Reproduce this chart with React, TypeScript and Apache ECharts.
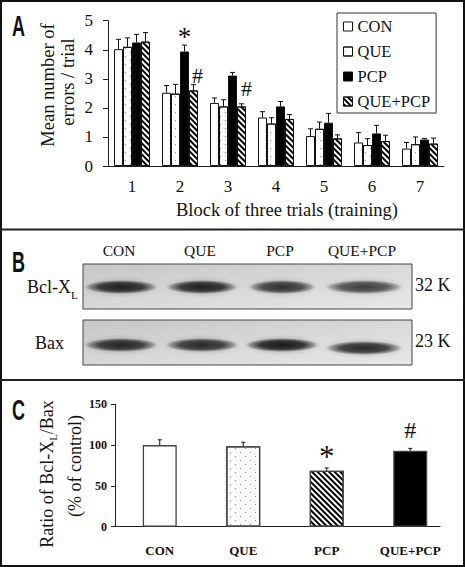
import React, { useEffect, useRef } from 'react';
import * as echarts from 'echarts';

// ---------- Panel A data ----------
const blocks = ['1', '2', '3', '4', '5', '6', '7'];
const groupNames = ['CON', 'QUE', 'PCP', 'QUE+PCP'];
const conMean = [4.02, 2.52, 2.17, 1.67, 1.03, 0.81, 0.6];
const conErr = [0.34, 0.25, 0.17, 0.2, 0.25, 0.34, 0.21];
const queMean = [4.1, 2.49, 2.05, 1.46, 1.28, 0.72, 0.75];
const queErr = [0.31, 0.32, 0.23, 0.2, 0.23, 0.22, 0.25];
const pcpMean = [4.25, 3.94, 3.11, 2.05, 1.49, 1.12, 0.91];
const pcpErr = [0.28, 0.22, 0.11, 0.17, 0.32, 0.28, 0.04];
const qpMean = [4.28, 2.6, 2.05, 1.62, 0.95, 0.86, 0.77];
const qpErr = [0.31, 0.2, 0.09, 0.15, 0.12, 0.2, 0.19];
// annotations in panel A: block index, bar index, value, text
const annA = [
  { block: 1, bar: 2, value: 4.61, text: '*', dx: 0 },
  { block: 1, bar: 3, value: 3.13, text: '#', dx: 4 },
  { block: 2, bar: 3, value: 2.67, text: '#', dx: 5 },
];

// ---------- Panel C data ----------
const ratioCats = ['CON', 'QUE', 'PCP', 'QUE+PCP'];
const ratioMean = [100, 98.5, 68.5, 93];
const ratioErr = [6.5, 5, 3.5, 3];
const annC = [
  { cat: 2, value: 92.7, text: '*' },
  { cat: 3, value: 118.3, text: '#' },
];

// ---------- Panel B (blot) ----------
const laneLabels = ['CON', 'QUE', 'PCP', 'QUE+PCP'];
const bclIntensity = [0.92, 0.92, 0.8, 0.72];
const baxIntensity = [0.88, 0.85, 0.97, 0.85];

const SERIF = "'Liberation Serif', 'Times New Roman', serif";
const SANS = "'Liberation Sans', Arial, sans-serif";

const measure = (t: string, size: number, weight = 'normal') => {
  const c = document.createElement('canvas').getContext('2d')!;
  c.font = `${weight} ${size}px ${SERIF}`;
  return c.measureText(t).width;
};

const dots = {
  symbol: 'rect',
  symbolSize: 1,
  dashArrayX: [[1, 9], [0, 5, 1, 4]],
  dashArrayY: [1, 3],
  color: '#888',
};
const dotsLegendless = dots;
const stripes = {
  symbol: 'rect',
  symbolSize: 1,
  dashArrayX: [1, 0],
  dashArrayY: [2, 2],
  rotation: Math.PI / 4,
  color: '#000',
};

const BAR_A = 9;

function errSeries(means: number[], errs: number[], offset: number, axis: number, capW: number) {
  return {
    type: 'custom',
    xAxisIndex: axis,
    yAxisIndex: axis,
    z: 5,
    silent: true,
    data: means.map((m, i) => [i, m, m + errs[i]]),
    encode: { x: 0, y: [1, 2] },
    renderItem: (params: any, api: any) => {
      const base = api.coord([api.value(0), api.value(1)]);
      const top = api.coord([api.value(0), api.value(2)]);
      const x = base[0] + offset;
      return {
        type: 'group',
        children: [
          { type: 'line', shape: { x1: x, y1: base[1], x2: x, y2: top[1] }, style: { stroke: '#111', lineWidth: 1 } },
          { type: 'line', shape: { x1: x - capW / 2, y1: top[1], x2: x + capW / 2, y2: top[1] }, style: { stroke: '#111', lineWidth: 1 } },
        ],
      };
    },
  };
}

function annSeries(items: any[], axis: number, size: number, starSize: number, offsetFn: (a: any) => number) {
  return {
    type: 'custom',
    xAxisIndex: axis,
    yAxisIndex: axis,
    z: 6,
    silent: true,
    data: items.map((a) => [a.block ?? a.cat, a.value]),
    encode: { x: 0, y: 1 },
    renderItem: (params: any, api: any) => {
      const a = items[params.dataIndex];
      const p = api.coord([api.value(0), api.value(1)]);
      const star = a.text === '*';
      const fs = star ? starSize : size;
      return {
        type: 'text',
        x: p[0] + offsetFn(a),
        y: p[1] + (star ? fs * 0.17 : 0),
        style: { text: a.text, fontFamily: SERIF, fontSize: fs, fill: '#111', align: 'center', verticalAlign: 'middle' },
      };
    },
  };
}

function buildOption() {
  const lineColor = '#222';
  const aSeriesDefs = [
    { name: 'CON', mean: conMean, err: conErr, style: { color: '#fff' } },
    { name: 'QUE', mean: queMean, err: queErr, style: { color: '#fff', decal: dotsLegendless } },
    { name: 'PCP', mean: pcpMean, err: pcpErr, style: { color: '#000' } },
    { name: 'QUE+PCP', mean: qpMean, err: qpErr, style: { color: '#fff', decal: stripes } },
  ];
  const barsA = aSeriesDefs.map((d) => ({
    name: d.name,
    type: 'bar',
    xAxisIndex: 0,
    yAxisIndex: 0,
    barWidth: BAR_A,
    barGap: '0%',
    z: 2,
    data: d.mean,
    itemStyle: { ...d.style, borderColor: '#111', borderWidth: 1 },
  }));
  const errA = aSeriesDefs.map((d, i) => errSeries(d.mean, d.err, (i - 1.5) * BAR_A, 0, 5));

  const cStyles = [
    { color: '#fff' },
    { color: '#fff', decal: dots },
    { color: '#fff', decal: stripes },
    { color: '#000' },
  ];
  const barsC = {
    name: 'ratio',
    type: 'bar',
    xAxisIndex: 1,
    yAxisIndex: 1,
    barWidth: 34,
    z: 2,
    data: ratioMean.map((v, i) => ({ value: v, itemStyle: { ...cStyles[i], borderColor: '#444', borderWidth: 1.3 } })),
  };

  // ---------- graphics ----------
  const g: any[] = [];
  g.push({ type: 'rect', shape: { x: 1, y: 1, width: 463, height: 565 }, style: { fill: 'none', stroke: '#111', lineWidth: 2 }, z: 100 });
  g.push({ type: 'line', shape: { x1: 0, y1: 229.5, x2: 465, y2: 229.5 }, style: { stroke: '#222', lineWidth: 2 }, z: 100 });
  g.push({ type: 'line', shape: { x1: 0, y1: 380, x2: 465, y2: 380 }, style: { stroke: '#222', lineWidth: 2 }, z: 100 });
  // panel letters
  [['A', 26], ['B', 262], ['C', 410]].forEach(([t, y]) => {
    g.push({ type: 'text', x: 12, y: y as number, scaleX: 0.6, style: { text: t, fontFamily: SANS, fontWeight: 'bold', fontSize: 30, fill: '#111', align: 'left', verticalAlign: 'middle' } });
  });
  // panel A titles
  g.push({ type: 'text', x: 48, y: 85, rotation: Math.PI / 2, style: { text: 'Mean number of', fontFamily: SERIF, fontSize: 18.5, fill: '#111', align: 'center', verticalAlign: 'middle' } });
  g.push({ type: 'text', x: 68, y: 82, rotation: Math.PI / 2, style: { text: 'errors / trial', fontFamily: SERIF, fontSize: 18.5, fill: '#111', align: 'center', verticalAlign: 'middle' } });
  g.push({ type: 'text', x: 287, y: 210, style: { text: 'Block of three trials (training)', fontFamily: SERIF, fontSize: 18.5, fill: '#111', align: 'center', verticalAlign: 'middle' } });

  // panel B
  const laneCx = [121, 202, 282, 364];
  laneLabels.forEach((t, i) => {
    g.push({ type: 'text', x: laneCx[i] - 2, y: 250.5, style: { text: t, fontFamily: SERIF, fontSize: 15.5, fill: '#111', align: 'center', verticalAlign: 'middle' } });
  });
  const blot = (y: number, h: number, intens: number[], cys: number[], rxs: number[]) => {
    g.push({
      type: 'rect', shape: { x: 83, y, width: 329, height: h },
      style: {
        fill: new echarts.graphic.LinearGradient(0, 0, 1, 1, [
          { offset: 0, color: '#c6c6c6' }, { offset: 0.5, color: '#d8d8d8' }, { offset: 1, color: '#e8e8e8' },
        ]),
        stroke: '#444', lineWidth: 1,
      },
    });
    intens.forEach((a, i) => {
      // soft halo
      g.push({
        type: 'ellipse', shape: { cx: laneCx[i], cy: cys[i], rx: rxs[i] + 3, ry: 11 },
        style: {
          fill: new echarts.graphic.RadialGradient(0.5, 0.5, 0.5, [
            { offset: 0, color: `rgba(60,60,60,${a * 0.5})` },
            { offset: 1, color: 'rgba(120,120,120,0)' },
          ]),
        },
      });
      // core band
      g.push({
        type: 'ellipse', shape: { cx: laneCx[i], cy: cys[i], rx: rxs[i], ry: 7 },
        style: {
          fill: new echarts.graphic.RadialGradient(0.5, 0.5, 0.5, [
            { offset: 0, color: `rgba(22,22,22,${a})` },
            { offset: 0.6, color: `rgba(35,35,35,${a * 0.9})` },
            { offset: 0.85, color: `rgba(60,60,60,${a * 0.45})` },
            { offset: 1, color: 'rgba(110,110,110,0)' },
          ]),
        },
      });
    });
  };
  blot(264, 45, bclIntensity, [287, 287, 287, 287], [37, 36, 34, 39]);
  blot(320, 45, baxIntensity, [345, 345, 345, 348], [37, 37, 37, 39]);
  const bclW = measure('Bcl-X', 18);
  g.push({ type: 'text', x: 27, y: 286.5, style: { text: 'Bcl-X', fontFamily: SERIF, fontSize: 18, fill: '#111', align: 'left', verticalAlign: 'middle' } });
  g.push({ type: 'text', x: 27 + bclW, y: 295, style: { text: 'L', fontFamily: SERIF, fontSize: 11, fill: '#111', align: 'left', verticalAlign: 'middle' } });
  g.push({ type: 'text', x: 415, y: 285, style: { text: '32 K', fontFamily: SERIF, fontSize: 18, fill: '#111', align: 'left', verticalAlign: 'middle' } });
  g.push({ type: 'text', x: 35, y: 342.5, style: { text: 'Bax', fontFamily: SERIF, fontSize: 18, fill: '#111', align: 'left', verticalAlign: 'middle' } });
  g.push({ type: 'text', x: 415, y: 341, style: { text: '23 K', fontFamily: SERIF, fontSize: 18, fill: '#111', align: 'left', verticalAlign: 'middle' } });

  // panel C y title with subscript
  const fsC = 18;
  const w1 = measure('Ratio of Bcl-X', fsC);
  const wL = measure('L', 11);
  const w2 = measure('/Bax', fsC);
  const total = w1 + wL + w2;
  const x0 = -total / 2;
  g.push({
    type: 'group', x: 47, y: 474, rotation: Math.PI / 2,
    children: [
      { type: 'text', x: x0, y: 0, style: { text: 'Ratio of Bcl-X', fontFamily: SERIF, fontSize: fsC, fill: '#111', align: 'left', verticalAlign: 'middle' } },
      { type: 'text', x: x0 + w1, y: 6, style: { text: 'L', fontFamily: SERIF, fontSize: 11, fill: '#111', align: 'left', verticalAlign: 'middle' } },
      { type: 'text', x: x0 + w1 + wL, y: 0, style: { text: '/Bax', fontFamily: SERIF, fontSize: fsC, fill: '#111', align: 'left', verticalAlign: 'middle' } },
    ],
  });
  g.push({ type: 'text', x: 75, y: 466, rotation: Math.PI / 2, style: { text: '(% of control)', fontFamily: SERIF, fontSize: fsC, fill: '#111', align: 'center', verticalAlign: 'middle' } });

  return {
    animation: false,
    backgroundColor: '#fff',
    legend: {
      data: groupNames,
      orient: 'vertical',
      left: 337,
      top: 13,
      padding: [5, 6, 3, 6],
      itemGap: 8,
      itemWidth: 9,
      itemHeight: 9,
      icon: 'rect',
      selectedMode: false,
      borderColor: '#333',
      borderWidth: 1,
      itemStyle: { borderColor: '#111', borderWidth: 1 },
      textStyle: { fontFamily: SERIF, fontSize: 16.5, color: '#111' },
    },
    grid: [
      { left: 108, right: 21, top: 20.7, bottom: 401 },
      { left: 118, right: 13, top: 404.3, bottom: 40.3 },
      { left: 115, right: 25, top: 404.3, bottom: 40.3 },
    ],
    xAxis: [
      {
        gridIndex: 0, type: 'category', data: blocks,
        axisLine: { lineStyle: { color: lineColor } }, axisTick: { show: false },
        axisLabel: { fontFamily: SERIF, fontSize: 17, color: '#111', margin: 12 },
      },
      {
        gridIndex: 1, type: 'category', data: ratioCats,
        axisLine: { show: false }, axisTick: { show: false },
        axisLabel: { fontFamily: SERIF, fontWeight: 'bold', fontSize: 13, color: '#111', margin: 17 },
      },
      {
        gridIndex: 2, type: 'value', min: 0, max: 1,
        axisLine: { show: true, lineStyle: { color: lineColor } }, axisTick: { show: false },
        axisLabel: { show: false }, splitLine: { show: false },
      },
    ],
    yAxis: [
      {
        gridIndex: 0, type: 'value', min: 0, max: 5, interval: 1,
        axisLine: { show: true, lineStyle: { color: lineColor } },
        axisTick: { show: true, length: 5, lineStyle: { color: lineColor } },
        axisLabel: { fontFamily: SERIF, fontSize: 17, color: '#111', margin: 15 },
        splitLine: { show: false },
      },
      {
        gridIndex: 1, type: 'value', min: 0, max: 150, interval: 50, offset: 3,
        axisLine: { show: true, lineStyle: { color: lineColor } },
        axisTick: { show: true, length: 4, lineStyle: { color: lineColor } },
        axisLabel: { fontFamily: SERIF, fontWeight: 'bold', fontSize: 12, color: '#111', margin: 8 },
        splitLine: { show: false },
      },
      { gridIndex: 2, type: 'value', min: 0, max: 1, show: false },
    ],
    series: [
      ...barsA,
      ...errA,
      annSeries(annA, 0, 22, 27, (a) => (a.bar - 1.5) * BAR_A + a.dx),
      barsC,
      errSeries(ratioMean, ratioErr, 0, 1, 4),
      annSeries(annC, 1, 24, 31, () => 0),
    ],
    graphic: g,
  };
}

export default function App() {
  const ref = useRef<HTMLDivElement>(null);
  useEffect(() => {
    if (!ref.current) return;
    const chart = echarts.init(ref.current, undefined, { renderer: 'svg' });
    chart.setOption(buildOption() as any);
    return () => chart.dispose();
  }, []);
  return <div ref={ref} style={{ position: 'absolute', left: 0, top: 0, width: 465, height: 567, background: '#fff' }} />;
}
